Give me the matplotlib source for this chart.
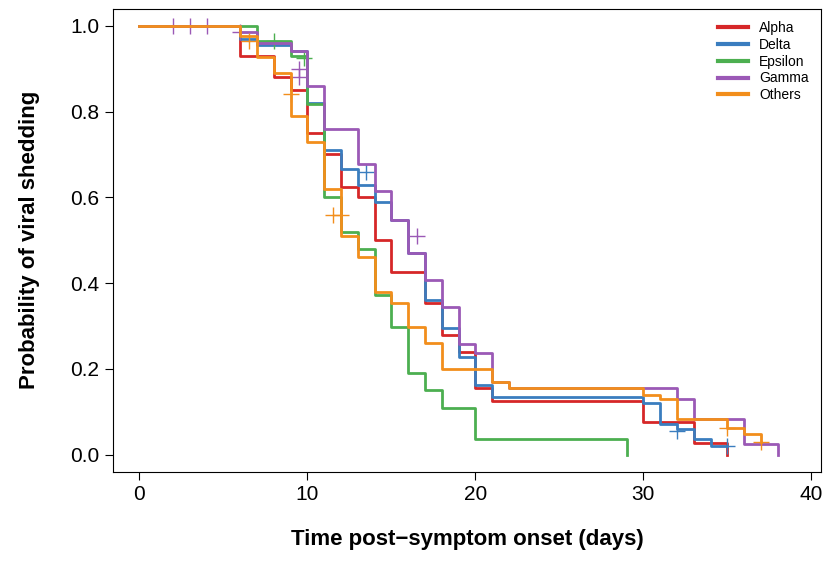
import matplotlib.pyplot as plt

plt.rcParams['font.family'] = ['Liberation Sans', 'DejaVu Sans']

variants = ["Alpha", "Delta", "Epsilon", "Gamma", "Others"]
colors = ["#d62728", "#3a7dbf", "#4caf50", "#9b59b6", "#f28e1c"]

alpha_t = [0, 6, 8, 9, 10, 11, 12, 13, 14, 15, 17, 18, 19, 20, 21, 30, 33, 35, 35]
alpha_s = [1.0, 0.93, 0.88, 0.85, 0.75, 0.70, 0.625, 0.60, 0.50, 0.427, 0.354, 0.28, 0.24, 0.155, 0.126, 0.077, 0.028, 0.0, 0.0]

delta_t = [0, 6, 7, 9, 10, 11, 12, 13, 14, 15, 16, 17, 18, 19, 20, 21, 30, 31, 32, 33, 34, 35]
delta_s = [1.0, 0.97, 0.955, 0.94, 0.82, 0.71, 0.665, 0.628, 0.588, 0.548, 0.47, 0.36, 0.295, 0.227, 0.162, 0.135, 0.12, 0.072, 0.06, 0.037, 0.02, 0.02]

eps_t = [0, 7, 9, 10, 11, 12, 13, 14, 15, 16, 17, 18, 20, 29, 29]
eps_s = [1.0, 0.965, 0.93, 0.817, 0.60, 0.52, 0.48, 0.372, 0.297, 0.19, 0.15, 0.11, 0.037, 0.0, 0.0]

gam_t = [0, 6, 7, 9, 10, 11, 13, 14, 15, 16, 17, 18, 19, 20, 21, 22, 32, 33, 36, 38, 38]
gam_s = [1.0, 0.985, 0.96, 0.94, 0.86, 0.76, 0.677, 0.614, 0.548, 0.47, 0.407, 0.344, 0.258, 0.236, 0.17, 0.155, 0.13, 0.084, 0.026, 0.0, 0.0]

oth_t = [0, 6, 7, 8, 9, 10, 11, 12, 13, 14, 15, 16, 17, 18, 21, 22, 30, 31, 32, 35, 36, 37]
oth_s = [1.0, 0.976, 0.927, 0.89, 0.79, 0.73, 0.62, 0.51, 0.46, 0.38, 0.354, 0.297, 0.26, 0.20, 0.17, 0.155, 0.14, 0.13, 0.084, 0.063, 0.049, 0.03]

# censor marks (time, survival)
cens = {
    "Gamma": ([2, 3, 4, 6, 9.5, 9.5, 16.5], [1.0, 1.0, 1.0, 0.985, 0.90, 0.88, 0.51]),
    "Others": ([6.5, 9, 11.5, 12, 35, 37], [0.965, 0.84, 0.56, 0.56, 0.063, 0.03]),
    "Epsilon": ([8, 9.8], [0.965, 0.925]),
    "Delta": ([13.5, 32, 35], [0.66, 0.055, 0.02]),
}

series = [(alpha_t, alpha_s), (delta_t, delta_s), (eps_t, eps_s), (gam_t, gam_s), (oth_t, oth_s)]

fig, ax = plt.subplots(figsize=(8.34, 5.72), dpi=100)
for name, c, (t, s) in zip(variants, colors, series):
    ax.step(t, s, where="post", color=c, lw=2, label=name)
    if name in cens:
        ax.plot(cens[name][0], cens[name][1], "+", color=c, ms=12, mew=1)

ax.set_xlim(-1.6, 40.6)
ax.set_ylim(-0.04, 1.04)
ax.set_xticks([0, 10, 20, 30, 40])
ax.set_yticks([0.0, 0.2, 0.4, 0.6, 0.8, 1.0])
ax.set_yticklabels(["0.0", "0.2", "0.4", "0.6", "0.8", "1.0"])
ax.tick_params(labelsize=15, length=6)
ax.set_xlabel("Time post\u2212symptom onset (days)", fontsize=16, fontweight="bold", labelpad=18)
ax.set_ylabel("Probability of viral shedding", fontsize=16, fontweight="bold", labelpad=22)
leg = ax.legend(loc="upper right", frameon=False, fontsize=10, handlelength=2.2, labelspacing=0.2)
for line in leg.get_lines():
    line.set_linewidth(3)

plt.subplots_adjust(left=0.135, right=0.985, top=0.985, bottom=0.175)
plt.savefig("out.png")
